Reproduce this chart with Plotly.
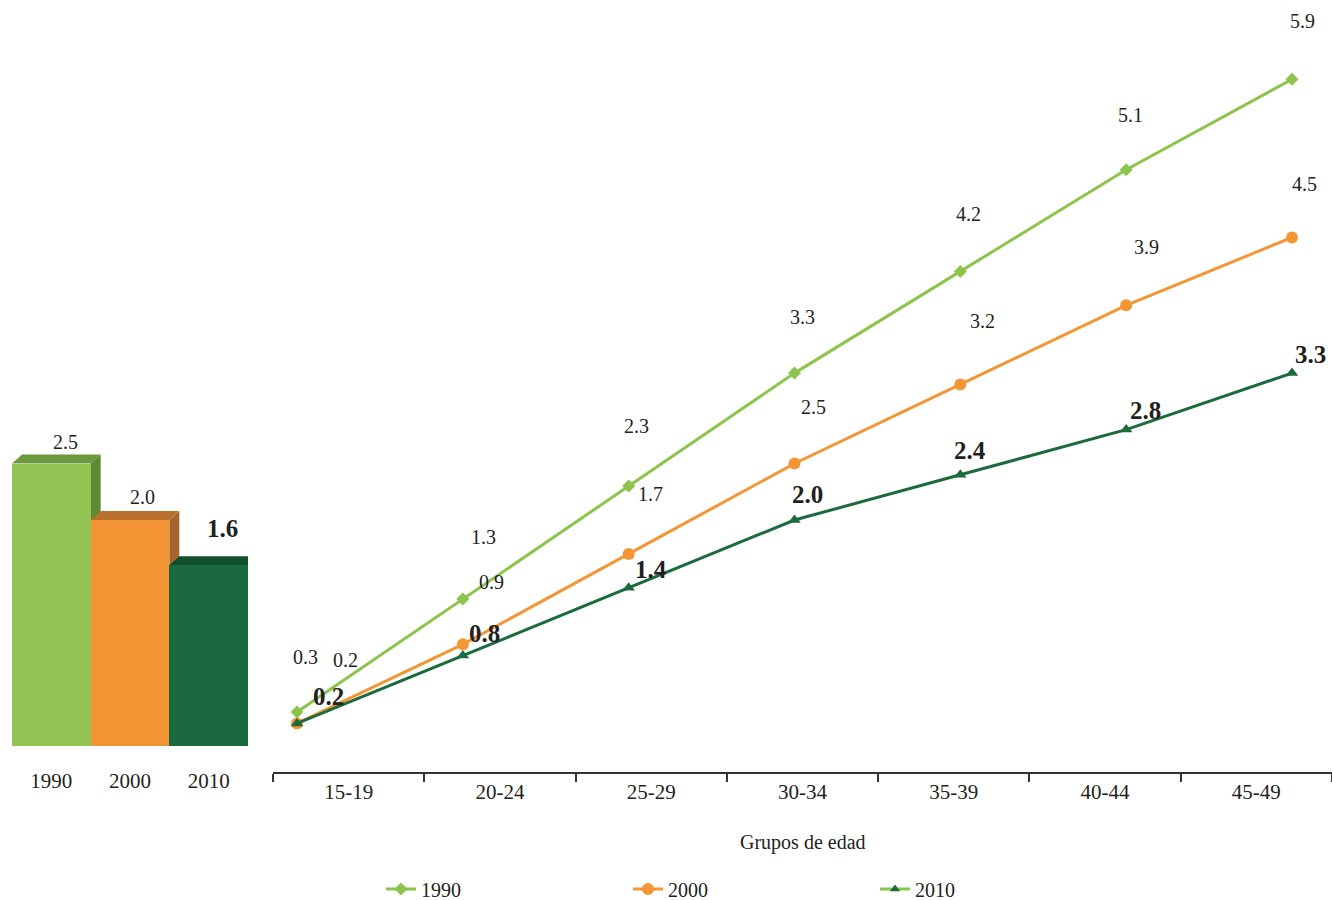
import plotly.graph_objects as go

# ---------------- data ----------------
age_groups = ["15-19", "20-24", "25-29", "30-34", "35-39", "40-44", "45-49"]
vals_1990 = [0.3, 1.3, 2.3, 3.3, 4.2, 5.1, 5.9]
vals_2000 = [0.2, 0.9, 1.7, 2.5, 3.2, 3.9, 4.5]
vals_2010 = [0.2, 0.8, 1.4, 2.0, 2.4, 2.8, 3.3]
bar_years = ["1990", "2000", "2010"]
bar_totals = [2.5, 2.0, 1.6]
axis_title = "Grupos de edad"

# ---------------- style ----------------
FONT = "Liberation Serif"
TXT = "#231f20"
C_LIGHT = "#8cc44c"
C_ORANGE = "#f39633"
C_DARK = "#1b6b3c"
bar_front = ["#92c553", "#f29433", "#1b6a3f"]
bar_top = ["#6a9a3e", "#b8702e", "#0f4f29"]
bar_side = ["#5c8a35", "#a6642a", "#0a3f20"]

W, H = 1332, 900
PLOT_BOTTOM = 772          # pixel y of line-chart axis
BAR_AXIS_PX = 766          # pixel y of (invisible) bar-chart axis
ZERO_PX = 746              # pixel y of value 0
PX_PER_UNIT = 113.0
y_min = -(PLOT_BOTTOM - ZERO_PX) / PX_PER_UNIT
y_max = ZERO_PX / PX_PER_UNIT
y2_min = -(BAR_AXIS_PX - ZERO_PX) / PX_PER_UNIT

AX_LEFT = 273
P_FIRST, P_LAST = 297, 1292
px_per_idx = (P_LAST - P_FIRST) / (len(age_groups) - 1)
x2_range = [-(P_FIRST - AX_LEFT) / px_per_idx,
            (len(age_groups) - 1) + (W - P_LAST) / px_per_idx]

BAR_L, BAR_R = 12, 248

fig = go.Figure()

# invisible trace to register categories on the visible axis
fig.add_trace(go.Scatter(x=age_groups, y=[None] * len(age_groups), mode="markers",
                         xaxis="x", yaxis="y", showlegend=False, hoverinfo="skip"))

line_specs = [
    ("1990", vals_1990, C_LIGHT, C_LIGHT, "diamond", 10),
    ("2000", vals_2000, C_ORANGE, C_ORANGE, "circle", 12),
    ("2010", vals_2010, C_DARK, C_DARK, "triangle-up", 11),
]
for name, vals, lc, mc, sym, ms in line_specs:
    fig.add_trace(go.Scatter(
        x=age_groups, y=vals, name=name, mode="lines+markers",
        line=dict(color=lc, width=3),
        marker=dict(color=mc, symbol=sym, size=ms),
        xaxis="x2", yaxis="y", showlegend=(name != "2010"),
    ))
# legend entry for 2010 (light line, dark triangle, as in the reference)
fig.add_trace(go.Scatter(
    x=[None], y=[None], name="2010", mode="lines+markers",
    line=dict(color=C_LIGHT, width=3),
    marker=dict(color=C_DARK, symbol="triangle-up", size=9),
    xaxis="x2", yaxis="y",
))

# bars
fig.add_trace(go.Bar(x=bar_years, y=bar_totals, marker=dict(color=bar_front, line=dict(width=0)),
                     xaxis="x3", yaxis="y2", showlegend=False, width=1.0))

# 3D faces computed from bar values
dx = 10 / ((BAR_R - BAR_L) / 3)
dy = 9 / PX_PER_UNIT
shapes = []
for i, v in enumerate(bar_totals):
    x0, x1 = i - 0.5, i + 0.5
    top = f"M {x0} {v} L {x0+dx} {v+dy} L {x1+dx} {v+dy} L {x1} {v} Z"
    side = f"M {x1} 0 L {x1+dx} {dy} L {x1+dx} {v+dy} L {x1} {v} Z"
    shapes.append(dict(type="path", path=side, xref="x3", yref="y2", layer="below",
                       fillcolor=bar_side[i], line=dict(width=0)))
    shapes.append(dict(type="path", path=top, xref="x3", yref="y2", layer="below",
                       fillcolor=bar_top[i], line=dict(width=0)))

annotations = []
# data labels on lines
label_cfg = [
    (vals_1990, [8, 21, 8, 8, 8, 4, 10], [55, 62, 60, 56, 57, 55, 58], False, 20),
    (vals_2000, [48, 29, 22, 19, 22, 20, 12], [63, 62, 60, 57, 63, 58, 54], False, 20),
    (vals_2010, [31, 22, 22, 13, 10, 19, 18], [27, 22, 18, 26, 24, 19, 19], True, 25),
]
for vals, xs, ys, bold, fs in label_cfg:
    for i, (v, xsft, ysft) in enumerate(zip(vals, xs, ys)):
        txt = f"<b>{v:.1f}</b>" if bold else f"{v:.1f}"
        annotations.append(dict(x=i, y=v, xref="x2", yref="y", text=txt, showarrow=False,
                                xshift=xsft, yshift=ysft,
                                font=dict(family=FONT, size=fs, color=TXT)))
# bar labels
bar_lab_cfg = [(14, 22, False, 20), (12, 23, False, 20), (14, 37, True, 25)]
for i, (v, (xsft, ysft, bold, fs)) in enumerate(zip(bar_totals, bar_lab_cfg)):
    txt = f"<b>{v:.1f}</b>" if bold else f"{v:.1f}"
    annotations.append(dict(x=i, y=v, xref="x3", yref="y2", text=txt, showarrow=False,
                            xshift=xsft, yshift=ysft,
                            font=dict(family=FONT, size=fs, color=TXT)))
# axis title
annotations.append(dict(x=(AX_LEFT + W) / 2 / W, y=(PLOT_BOTTOM - 843) / PLOT_BOTTOM,
                        xref="paper", yref="paper", xanchor="center", yanchor="middle",
                        text=axis_title, showarrow=False,
                        font=dict(family=FONT, size=20, color=TXT)))

fig.update_layout(
    width=W, height=H,
    margin=dict(l=0, r=0, t=0, b=H - PLOT_BOTTOM, pad=0, autoexpand=False),
    paper_bgcolor="white", plot_bgcolor="rgba(0,0,0,0)",
    font=dict(family=FONT, color=TXT),
    bargap=0,
    showlegend=True,
    legend=dict(orientation="h", x=381 / W, xanchor="left",
                y=(PLOT_BOTTOM - 889) / PLOT_BOTTOM, yanchor="middle",
                entrywidth=202, entrywidthmode="pixels",
                font=dict(family=FONT, size=20, color=TXT),
                bgcolor="rgba(0,0,0,0)", traceorder="normal"),
    xaxis=dict(domain=[AX_LEFT / W, 1], type="category", categoryarray=age_groups,
               range=[-0.5, len(age_groups) - 0.5],
               showline=True, linecolor="#333333", linewidth=1.5,
               ticks="outside", ticklen=8, tickcolor="#333333", tickwidth=1.5,
               tickson="boundaries", showgrid=False, zeroline=False,
               tickfont=dict(family=FONT, size=21, color=TXT), anchor="y"),
    xaxis2=dict(domain=[AX_LEFT / W, 1], type="category", categoryarray=age_groups,
                range=x2_range, overlaying="x", visible=False, anchor="y"),
    xaxis3=dict(domain=[BAR_L / W, BAR_R / W], type="category", categoryarray=bar_years,
                range=[-0.5, len(bar_years) - 0.5], showline=False, ticks="",
                showgrid=False, zeroline=False, anchor="y2",
                tickfont=dict(family=FONT, size=21, color=TXT)),
    yaxis=dict(domain=[0, 1], range=[y_min, y_max], visible=False,
               showgrid=False, zeroline=False),
    yaxis2=dict(domain=[(PLOT_BOTTOM - BAR_AXIS_PX) / PLOT_BOTTOM, 1], range=[y2_min, y_max],
                visible=False, showgrid=False, zeroline=False, anchor="x3"),
    shapes=shapes,
    annotations=annotations,
)

fig.write_html("out.html", config={"displayModeBar": False},
               post_script="document.body.style.margin='0';document.body.style.overflow='hidden';")
